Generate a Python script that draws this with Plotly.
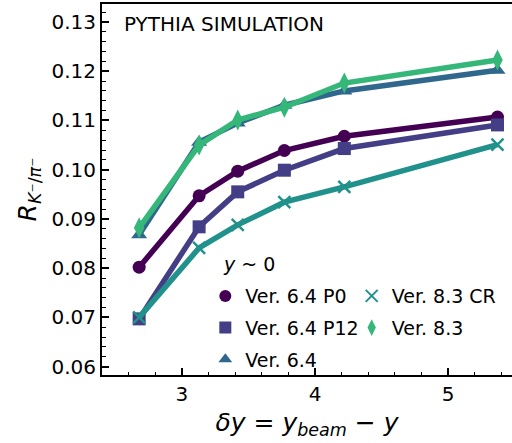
import plotly.graph_objects as go

# rapidity gap delta y = y_beam - y
dy = [2.68, 3.13, 3.42, 3.77, 4.22, 5.37]

# K-/pi- ratio for each PYTHIA tune
r_p0 = [0.0802, 0.0947, 0.0997, 0.1039, 0.1068, 0.1107]
r_p12 = [0.0697, 0.0884, 0.0955, 0.0999, 0.1043, 0.1091]
r_v64 = [0.0868, 0.1056, 0.1095, 0.1131, 0.1160, 0.1202]
r_v83cr = [0.0700, 0.0841, 0.0888, 0.0934, 0.0965, 0.1051]
r_v83 = [0.0882, 0.1050, 0.1101, 0.1127, 0.1176, 0.1223]

series = [
    ("Ver. 6.4 P0", r_p0, "#440154", "circle", 13, "legend"),
    ("Ver. 6.4 P12", r_p12, "#433e85", "square", 13, "legend"),
    ("Ver. 6.4", r_v64, "#30678d", "triangle-up", 14, "legend"),
    ("Ver. 8.3 CR", r_v83cr, "#21918c", "x-thin", 12, "legend2"),
    ("Ver. 8.3", r_v83, "#35b779", "diamond-tall", 15, "legend2"),
]

FONT = "DejaVu Sans"

fig = go.Figure()
for name, vals, col, sym, size, leg in series:
    mk = dict(symbol=sym, size=size, color=col,
              line=dict(color=col, width=2.5 if sym == "x-thin" else 0))
    # curve with markers
    fig.add_trace(go.Scatter(
        x=dy, y=vals, name=name, mode="lines+markers",
        line=dict(color=col, width=5.5), marker=mk,
        showlegend=False, legendgroup=name,
    ))
    # marker-only legend entry
    fig.add_trace(go.Scatter(
        x=[None], y=[None], name=name, mode="markers",
        marker=dict(mk, size=size + 1),
        legend=leg, legendgroup=name,
    ))

axis_common = dict(
    showline=True, linecolor="black", linewidth=2,
    ticks="inside", ticklen=7, tickwidth=1.5, tickcolor="black",
    showgrid=False, zeroline=False,
    tickfont=dict(family=FONT, size=20, color="black"),
)

fig.update_xaxes(
    range=[2.401, 5.479], tickvals=[3, 4, 5], mirror=True,
    minor=dict(ticks="inside", dtick=0.2, tick0=0, ticklen=3.5, tickwidth=1.2, tickcolor="black"),
    title=dict(text="<i>δy</i> = <i>y</i><sub><i>beam</i></sub> − <i>y</i>",
               font=dict(family=FONT, size=25, color="black"), standoff=8),
    **axis_common,
)
fig.update_yaxes(
    range=[0.0583, 0.13366], tickvals=[0.06, 0.07, 0.08, 0.09, 0.10, 0.11, 0.12, 0.13],
    tickformat=".2f",
    minor=dict(ticks="inside", dtick=0.002, tick0=0, ticklen=3.5, tickwidth=1.2, tickcolor="black"),
    title=dict(text="<i>R</i><sub><i>K</i>⁻/<i>π</i>⁻</sub>",
               font=dict(family=FONT, size=25, color="black"), standoff=8),
    **axis_common,
)

legend_common = dict(
    bgcolor="rgba(0,0,0,0)", borderwidth=0,
    font=dict(family=FONT, size=19, color="black"),
    xanchor="left", yanchor="top", itemsizing="constant",
    tracegroupgap=4,
)
fig.update_layout(
    width=512, height=443,
    margin=dict(l=102, r=0, t=4, b=68),
    plot_bgcolor="white", paper_bgcolor="white",
    legend=dict(x=0.252, y=0.264, **legend_common),
    legend2=dict(x=0.609, y=0.264, **legend_common),
    annotations=[
        dict(text="PYTHIA SIMULATION", xref="paper", yref="paper", x=0.048, y=0.983,
             xanchor="left", yanchor="top", showarrow=False,
             font=dict(family=FONT, size=20, color="black")),
        dict(text="<i>y</i> ~ 0", xref="paper", yref="paper", x=0.29, y=0.333,
             xanchor="left", yanchor="top", showarrow=False,
             font=dict(family=FONT, size=19, color="black")),
    ],
)

fig.write_html("out.html")
